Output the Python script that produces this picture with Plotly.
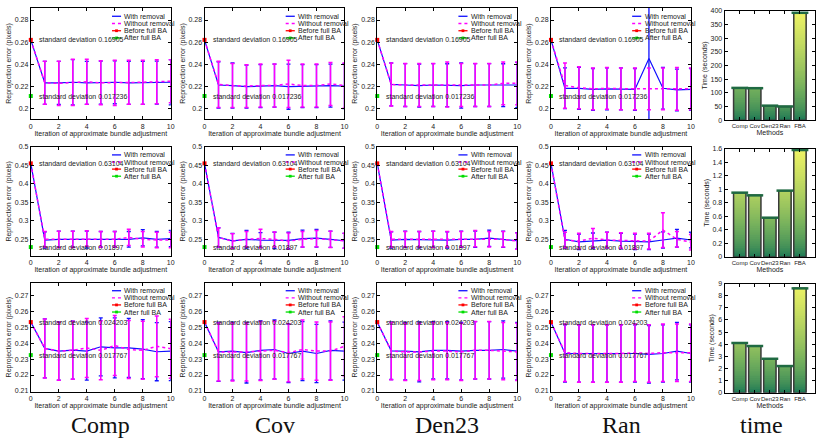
import math
import plotly.graph_objects as go

W, H = 821, 443

# ---------------- data ----------------
methods = ["Comp", "Cov", "Den23", "Ran"]
iterations = list(range(11))
bar_methods = ["Comp", "Cov", "Den23", "Ran", "FBA"]
column_labels = ["Comp", "Cov", "Den23", "Ran", "time"]

before_full_ba = [0.262, 0.455, 0.2532]
after_full_ba = [0.211, 0.229, 0.2325]
std_before = ["0.16905", "0.63104", "0.024203"]
std_after = ["0.017236", "0.01897", "0.017767"]

# row 1 -------------------------------------------------------------
with_r1_comp = [0.262, 0.223, 0.223, 0.2235, 0.223, 0.2232, 0.2235, 0.223, 0.223, 0.2232, 0.2235]
without_r1_comp = [0.262, 0.223, 0.2225, 0.2235, 0.224, 0.223, 0.223, 0.2235, 0.2235, 0.224, 0.2245]
with_err_r1_comp = [0.0195, 0.0195, 0.0205, 0.0195, 0.0195, 0.0195, 0.0195, 0.0195, 0.0195, 0.0205]
without_err_r1_comp = [0.0195, 0.02, 0.021, 0.0205, 0.02, 0.0205, 0.02, 0.02, 0.02, 0.0195]

with_r1_cov = [0.262, 0.221, 0.2205, 0.2195, 0.22, 0.2205, 0.2195, 0.22, 0.22, 0.2205, 0.22]
without_r1_cov = [0.262, 0.2215, 0.2205, 0.22, 0.2205, 0.2205, 0.222, 0.2205, 0.2205, 0.222, 0.2205]
with_err_r1_cov = [0.021, 0.0205, 0.0195, 0.0195, 0.0195, 0.0205, 0.0195, 0.0195, 0.0195, 0.0205]
without_err_r1_cov = [0.021, 0.02, 0.0195, 0.0195, 0.0195, 0.0215, 0.0195, 0.0195, 0.0195, 0.0205]

with_r1_den = [0.262, 0.2215, 0.221, 0.2205, 0.221, 0.2208, 0.2205, 0.221, 0.221, 0.2208, 0.221]
without_r1_den = [0.262, 0.2215, 0.221, 0.221, 0.221, 0.2215, 0.221, 0.221, 0.221, 0.2225, 0.2225]
with_err_r1_den = [0.0195, 0.0195, 0.0195, 0.0195, 0.0195, 0.0205, 0.0195, 0.0195, 0.0195, 0.0205]
without_err_r1_den = [0.0195, 0.0195, 0.0195, 0.0195, 0.0205, 0.0195, 0.0195, 0.0195, 0.0195, 0.0195]

with_r1_ran = [0.262, 0.218, 0.218, 0.217, 0.2175, 0.2175, 0.217, 0.245, 0.218, 0.2165, 0.217]
without_r1_ran = [0.262, 0.2205, 0.2185, 0.2175, 0.218, 0.2175, 0.2175, 0.2175, 0.2175, 0.2175, 0.2175]
with_err_r1_ran = [0.0185, 0.019, 0.019, 0.019, 0.019, 0.019, 0.15, 0.019, 0.019, 0.019]
without_err_r1_ran = [0.0205, 0.019, 0.019, 0.019, 0.019, 0.019, 0.019, 0.019, 0.0195, 0.019]

# row 2 -------------------------------------------------------------
with_r2_comp = [0.455, 0.248, 0.25, 0.25, 0.249, 0.25, 0.25, 0.25, 0.254, 0.25, 0.252]
without_r2_comp = [0.455, 0.25, 0.25, 0.25, 0.252, 0.25, 0.25, 0.255, 0.25, 0.248, 0.248]
with_err_r2_comp = [0.022, 0.022, 0.022, 0.023, 0.021, 0.021, 0.021, 0.022, 0.021, 0.022]
without_err_r2_comp = [0.021, 0.022, 0.022, 0.021, 0.021, 0.021, 0.022, 0.021, 0.021, 0.021]

with_r2_cov = [0.455, 0.255, 0.246, 0.25, 0.248, 0.247, 0.247, 0.252, 0.253, 0.25, 0.246]
without_r2_cov = [0.455, 0.255, 0.245, 0.25, 0.252, 0.25, 0.245, 0.25, 0.252, 0.25, 0.246]
with_err_r2_cov = [0.026, 0.02, 0.024, 0.02, 0.022, 0.022, 0.023, 0.024, 0.022, 0.02]
without_err_r2_cov = [0.026, 0.02, 0.021, 0.025, 0.02, 0.022, 0.021, 0.022, 0.022, 0.02]

with_r2_den = [0.455, 0.248, 0.25, 0.249, 0.25, 0.248, 0.25, 0.25, 0.253, 0.25, 0.246]
without_r2_den = [0.455, 0.25, 0.25, 0.25, 0.25, 0.25, 0.25, 0.252, 0.25, 0.25, 0.245]
with_err_r2_den = [0.022, 0.022, 0.022, 0.022, 0.022, 0.022, 0.022, 0.022, 0.022, 0.022]
without_err_r2_den = [0.021, 0.021, 0.021, 0.022, 0.021, 0.021, 0.022, 0.021, 0.021, 0.022]

with_r2_ran = [0.455, 0.25, 0.243, 0.246, 0.248, 0.245, 0.243, 0.243, 0.248, 0.253, 0.248]
without_r2_ran = [0.455, 0.248, 0.245, 0.253, 0.248, 0.247, 0.245, 0.245, 0.275, 0.25, 0.242]
with_err_r2_ran = [0.024, 0.021, 0.021, 0.021, 0.021, 0.021, 0.021, 0.022, 0.024, 0.021]
without_err_r2_ran = [0.021, 0.021, 0.026, 0.021, 0.021, 0.021, 0.021, 0.047, 0.021, 0.021]

# row 3 -------------------------------------------------------------
with_r3_comp = [0.2532, 0.2367, 0.235, 0.2356, 0.235, 0.2377, 0.237, 0.237, 0.2362, 0.2346, 0.235]
without_r3_comp = [0.2532, 0.2367, 0.235, 0.2355, 0.237, 0.2355, 0.2385, 0.236, 0.2355, 0.238, 0.2365]
with_err_r3_comp = [0.0185, 0.0182, 0.0182, 0.0182, 0.0182, 0.0188, 0.0185, 0.0185, 0.0182, 0.0185]
without_err_r3_comp = [0.0185, 0.0182, 0.0182, 0.0185, 0.0185, 0.0188, 0.0182, 0.0182, 0.0190, 0.0185]

with_r3_cov = [0.2532, 0.2345, 0.235, 0.234, 0.2355, 0.236, 0.2335, 0.235, 0.2335, 0.2355, 0.235]
without_r3_cov = [0.2532, 0.2345, 0.2345, 0.2345, 0.235, 0.2355, 0.234, 0.236, 0.235, 0.235, 0.238]
with_err_r3_cov = [0.0185, 0.0182, 0.019, 0.0185, 0.0185, 0.0182, 0.0185, 0.0182, 0.0185, 0.0182]
without_err_r3_cov = [0.0182, 0.0182, 0.0182, 0.0185, 0.0182, 0.0182, 0.0185, 0.0182, 0.0182, 0.0185]

with_r3_den = [0.2532, 0.2352, 0.235, 0.2345, 0.2355, 0.2355, 0.235, 0.2355, 0.2355, 0.236, 0.235]
without_r3_den = [0.2532, 0.235, 0.2345, 0.2345, 0.235, 0.235, 0.2345, 0.2355, 0.2355, 0.235, 0.2345]
with_err_r3_den = [0.018, 0.018, 0.0188, 0.018, 0.018, 0.018, 0.018, 0.018, 0.018, 0.018]
without_err_r3_den = [0.018, 0.018, 0.018, 0.018, 0.018, 0.018, 0.018, 0.018, 0.018, 0.018]

with_r3_ran = [0.2532, 0.2335, 0.2335, 0.2335, 0.2335, 0.2335, 0.2335, 0.233, 0.2335, 0.235, 0.2335]
without_r3_ran = [0.2532, 0.234, 0.2335, 0.2335, 0.2335, 0.2335, 0.234, 0.2335, 0.234, 0.234, 0.234]
with_err_r3_ran = [0.018, 0.018, 0.018, 0.018, 0.018, 0.018, 0.018, 0.018, 0.018, 0.018]
without_err_r3_ran = [0.018, 0.018, 0.018, 0.018, 0.018, 0.018, 0.018, 0.018, 0.018, 0.018]

# time bars ---------------------------------------------------------
time_r1 = [118, 117, 53, 50, 393]
time_r2 = [0.95, 0.91, 0.58, 0.98, 1.58]
time_r3 = [4.1, 3.85, 2.8, 2.2, 8.6]

# axis ranges / ticks
err_yrange = [[0.19, 0.291], [0.205, 0.5], [0.2095, 0.278]]
err_ytickvals = [[0.2, 0.22, 0.24, 0.26, 0.28],
                 [0.25, 0.3, 0.35, 0.4, 0.45, 0.5],
                 [0.21, 0.22, 0.23, 0.24, 0.25, 0.26, 0.27]]
err_yticktext = [["0.2", "0.22", "0.24", "0.26", "0.28"],
                 ["0.25", "0.3", "0.35", "0.4", "0.45", "0.5"],
                 ["0.21", "0.22", "0.23", "0.24", "0.25", "0.26", "0.27"]]
time_yrange = [[0, 400], [0, 1.6], [0, 9]]
time_dtick = [50, 0.2, 1]

rows_with = [[with_r1_comp, with_r1_cov, with_r1_den, with_r1_ran],
             [with_r2_comp, with_r2_cov, with_r2_den, with_r2_ran],
             [with_r3_comp, with_r3_cov, with_r3_den, with_r3_ran]]
rows_without = [[without_r1_comp, without_r1_cov, without_r1_den, without_r1_ran],
                [without_r2_comp, without_r2_cov, without_r2_den, without_r2_ran],
                [without_r3_comp, without_r3_cov, without_r3_den, without_r3_ran]]
rows_with_err = [[with_err_r1_comp, with_err_r1_cov, with_err_r1_den, with_err_r1_ran],
                 [with_err_r2_comp, with_err_r2_cov, with_err_r2_den, with_err_r2_ran],
                 [with_err_r3_comp, with_err_r3_cov, with_err_r3_den, with_err_r3_ran]]
rows_without_err = [[without_err_r1_comp, without_err_r1_cov, without_err_r1_den, without_err_r1_ran],
                    [without_err_r2_comp, without_err_r2_cov, without_err_r2_den, without_err_r2_ran],
                    [without_err_r3_comp, without_err_r3_cov, without_err_r3_den, without_err_r3_ran]]
time_rows = [time_r1, time_r2, time_r3]

# ---------------- layout geometry (pixels) ----------------
col_px = [(29, 170), (204, 345), (378, 519), (553, 694), (728, 819)]
row_px = [(4, 117), (145, 256), (283, 394)]
time_row_px = [(7, 118), (147, 257), (284, 395)]
label_x_px = [99, 275, 448, 624, 765]
label_y_px = 428


def px_x(p):
    return p / W


def px_y(p):
    return 1 - p / H


FONT = "Liberation Sans, Arial, sans-serif"
TXT = "#222222"
BLUE = "#1010ff"
MAG = "#ff00ff"

fig = go.Figure()
layout = dict(
    width=W, height=H, margin=dict(l=0, r=0, t=0, b=0),
    paper_bgcolor="white", plot_bgcolor="white", showlegend=False,
    font=dict(family=FONT, size=7, color=TXT), barmode="overlay",
)
shapes = []
annotations = []


def axis_style():
    return dict(showline=True, linecolor="black", linewidth=1, mirror="allticks",
                ticks="inside", ticklen=3, tickwidth=0.8, tickcolor="black",
                showgrid=False, zeroline=False,
                tickfont=dict(family=FONT, size=7, color=TXT))


def summer(t):
    t = max(0.0, min(1.0, t))
    stops = [(0.0, (18, 112, 84)), (0.45, (110, 172, 92)), (1.0, (240, 244, 100))]
    for (a, ca), (b, cb) in zip(stops[:-1], stops[1:]):
        if t <= b:
            f = (t - a) / (b - a)
            c = [round(ca[i] + f * (cb[i] - ca[i])) for i in range(3)]
            return "rgb(%d,%d,%d)" % tuple(c)
    return "rgb(240,244,100)"


legend_items = [("With removal", BLUE, "solid", None),
                ("Without removal", MAG, "dot", None),
                ("Before full BA", "#ff0000", "solid", "#ff0000"),
                ("After full BA", "#00dd00", "solid", "#00dd00")]
legend_y = [0.925, 0.86, 0.795, 0.73]

for r in range(3):
    for c in range(5):
        n = r * 5 + c + 1
        xa = "x" if n == 1 else "x%d" % n
        ya = "y" if n == 1 else "y%d" % n
        xkey = "xaxis" if n == 1 else "xaxis%d" % n
        ykey = "yaxis" if n == 1 else "yaxis%d" % n
        x0p, x1p = col_px[c]
        if c < 4:
            y0p, y1p = row_px[r]
        else:
            y0p, y1p = time_row_px[r]
        xd = [px_x(x0p), px_x(x1p)]
        yd = [px_y(y1p), px_y(y0p)]

        if c < 4:
            xs = axis_style()
            xs.update(domain=xd, anchor=ya, range=[0, 10], tickvals=[0, 2, 4, 6, 8, 10],
                      title=dict(text="Iteration of approximate bundle adjustment",
                                 font=dict(size=7, color=TXT), standoff=1))
            ys = axis_style()
            ys.update(domain=yd, anchor=xa, range=err_yrange[r],
                      tickvals=err_ytickvals[r], ticktext=err_yticktext[r],
                      title=dict(text="Reprojection error (pixels)",
                                 font=dict(size=7, color=TXT), standoff=2))
            layout[xkey] = xs
            layout[ykey] = ys

            yw = rows_with[r][c]
            ywo = rows_without[r][c]
            ew = rows_with_err[r][c]
            ewo = rows_without_err[r][c]
            # with removal
            fig.add_trace(go.Scatter(
                x=iterations[1:], y=yw[1:], mode="markers",
                marker=dict(size=1, color="rgba(0,0,0,0)"),
                error_y=dict(type="data", array=ew, symmetric=True, color=BLUE,
                             thickness=1.3, width=2),
                xaxis=xa, yaxis=ya, hoverinfo="skip"))
            fig.add_trace(go.Scatter(
                x=iterations, y=yw, mode="lines", line=dict(color=BLUE, width=1.2),
                xaxis=xa, yaxis=ya, name="With removal"))
            # without removal
            fig.add_trace(go.Scatter(
                x=iterations[1:], y=ywo[1:], mode="markers",
                marker=dict(size=1, color="rgba(0,0,0,0)"),
                error_y=dict(type="data", array=ewo, symmetric=True, color=MAG,
                             thickness=1.5, width=2),
                xaxis=xa, yaxis=ya, hoverinfo="skip"))
            fig.add_trace(go.Scatter(
                x=iterations, y=ywo, mode="lines",
                line=dict(color=MAG, width=1.5, dash="dot"),
                xaxis=xa, yaxis=ya, name="Without removal"))
            # before / after full BA
            fig.add_trace(go.Scatter(
                x=[iterations[0]], y=[before_full_ba[r]], mode="markers",
                marker=dict(symbol="square", size=4, color="#ff0000"),
                xaxis=xa, yaxis=ya, name="Before full BA", cliponaxis=False))
            fig.add_trace(go.Scatter(
                x=[iterations[0]], y=[after_full_ba[r]], mode="markers",
                marker=dict(symbol="square", size=4, color="#00dd00"),
                xaxis=xa, yaxis=ya, name="After full BA", cliponaxis=False))

            annotations.append(dict(
                x=0.45, y=before_full_ba[r], xref=xa, yref=ya, xanchor="left", yanchor="middle",
                text="standard deviation " + std_before[r], showarrow=False,
                font=dict(size=7, color=TXT, family=FONT)))
            annotations.append(dict(
                x=0.45, y=after_full_ba[r], xref=xa, yref=ya, xanchor="left", yanchor="middle",
                text="standard deviation " + std_after[r], showarrow=False,
                font=dict(size=7, color=TXT, family=FONT)))

            # legend (drawn as glyphs in axis-domain coordinates)
            w = x1p - x0p
            h = y1p - y0p
            for (lab, col, dash, mk), ly in zip(legend_items, legend_y):
                shapes.append(dict(type="line", xref=xa + " domain", yref=ya + " domain",
                                   x0=0.58, x1=0.645, y0=ly, y1=ly,
                                   line=dict(color=col, width=1.3, dash=dash)))
                if mk:
                    sx = 1.4 / w
                    sy = 1.4 / h
                    shapes.append(dict(type="rect", xref=xa + " domain", yref=ya + " domain",
                                       x0=0.6125 - sx, x1=0.6125 + sx, y0=ly - sy, y1=ly + sy,
                                       line=dict(width=0), fillcolor=mk))
                annotations.append(dict(x=0.655, y=ly, xref=xa + " domain", yref=ya + " domain",
                                        xanchor="left", yanchor="middle", text=lab,
                                        showarrow=False,
                                        font=dict(size=7, color=TXT, family=FONT)))
        else:
            vals = time_rows[r]
            ymax = time_yrange[r][1]
            xs = axis_style()
            xs.update(domain=xd, anchor=ya, type="category", range=[-1, 5],
                      categoryorder="array", categoryarray=bar_methods, tickangle=0,
                      tickfont=dict(family=FONT, size=6, color=TXT),
                      title=dict(text="Methods", font=dict(size=7, color=TXT), standoff=0))
            ys = axis_style()
            ys.update(domain=yd, anchor=xa, range=time_yrange[r], dtick=time_dtick[r],
                      title=dict(text="Time (seconds)", font=dict(size=7, color=TXT), standoff=2))
            layout[xkey] = xs
            layout[ykey] = ys

            nseg = 60
            bx, bb, by, bc = [], [], [], []
            for k in range(nseg):
                lo = ymax * k / nseg
                t = ((k + 0.5) / nseg) ** 0.6
                for m, v in zip(bar_methods, vals):
                    if v > lo:
                        bx.append(m)
                        bb.append(lo)
                        by.append(v - lo)
                        bc.append(summer(t))
            fig.add_trace(go.Bar(x=bx, y=by, base=bb, width=0.82,
                                 marker=dict(color=bc, line=dict(width=0)),
                                 xaxis=xa, yaxis=ya, hoverinfo="skip"))
            fig.add_trace(go.Scatter(x=bar_methods, y=vals, mode="markers",
                                     marker=dict(symbol="line-ew", size=12,
                                                 line=dict(color="#1f6a42", width=2.5)),
                                     xaxis=xa, yaxis=ya, hoverinfo="skip", cliponaxis=False))
            fig.add_trace(go.Bar(x=bar_methods, y=vals, width=0.82,
                                 marker=dict(color="rgba(0,0,0,0)",
                                             line=dict(color="#3a3a3a", width=1.5)),
                                 xaxis=xa, yaxis=ya, name="Time"))

for lab, lx in zip(column_labels, label_x_px):
    annotations.append(dict(x=px_x(lx), y=px_y(label_y_px), xref="paper", yref="paper",
                            xanchor="center", yanchor="middle", text=lab, showarrow=False,
                            font=dict(family="Liberation Serif, DejaVu Serif, serif",
                                      size=24, color="#111111")))

layout["shapes"] = shapes
layout["annotations"] = annotations
fig.update_layout(**layout)
fig.write_html("out.html", config={"displayModeBar": False},
               post_script="document.body.style.margin='0';")
